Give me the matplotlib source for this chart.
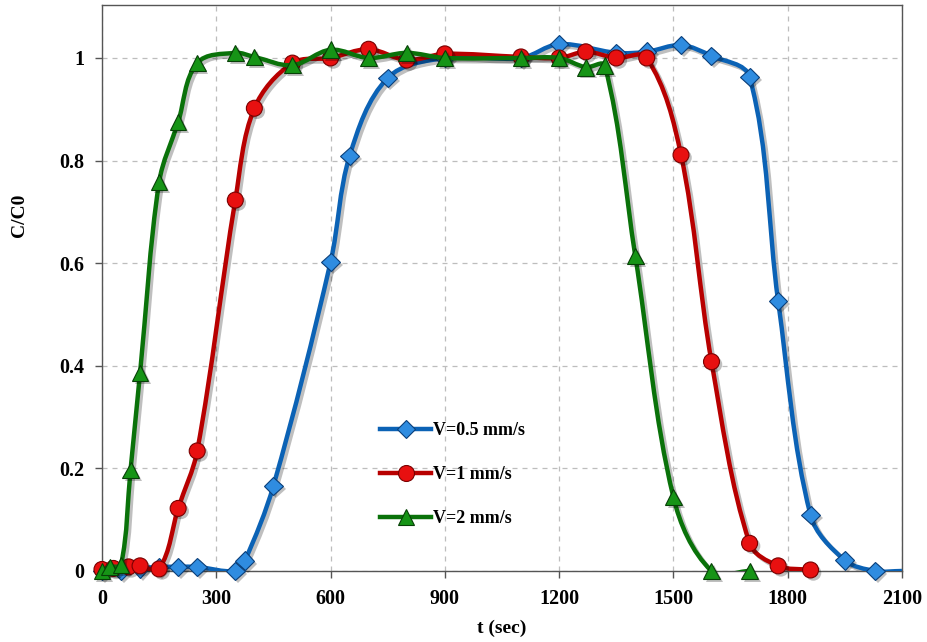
import numpy as np
import matplotlib
matplotlib.use("Agg")
import matplotlib.pyplot as plt
import matplotlib.patheffects as pe
from matplotlib.path import Path
from matplotlib.patches import PathPatch
from matplotlib.lines import Line2D
from matplotlib.ticker import FuncFormatter

# datos
t_05 = [0, 50, 100, 150, 200, 250, 350, 375, 450, 600, 650, 750, 900, 1100, 1200,
        1350, 1430, 1520, 1600, 1700, 1775, 1860, 1950, 2030, 2100]
c_05 = [0, 0, 0.005, 0.008, 0.008, 0.008, 0, 0.02, 0.166, 0.602, 0.809, 0.961, 1.0, 1.0, 1.027,
        1.01, 1.012, 1.025, 1.004, 0.963, 0.526, 0.109, 0.021, 0, 0]

t_1 = [0, 30, 70, 100, 150, 200, 250, 350, 400, 500, 600, 700, 800, 900, 1100, 1200,
       1270, 1350, 1430, 1520, 1600, 1700, 1775, 1860]
c_1 = [0.003, 0.005, 0.008, 0.01, 0.004, 0.122, 0.234, 0.723, 0.902, 0.99, 1.0, 1.017, 0.996,
       1.008, 1.002, 1.0, 1.012, 1.0, 1.0, 0.811, 0.408, 0.054, 0.01, 0.002]

t_2 = [0, 20, 50, 75, 100, 150, 200, 250, 350, 400, 500, 600, 700, 800, 900, 1100, 1200,
       1270, 1320, 1400, 1500, 1600, 1700]
c_2 = [0, 0.008, 0.012, 0.197, 0.386, 0.758, 0.875, 0.99, 1.01, 1.002, 0.986, 1.016, 1.0,
       1.01, 1.0, 1.0, 1.0, 0.982, 0.985, 0.614, 0.144, 0, 0]

labels = ["V=0.5 mm/s", "V=1 mm/s", "V=2 mm/s"]
x_ticks = [0, 300, 600, 900, 1200, 1500, 1800, 2100]
y_ticks = [0, 0.2, 0.4, 0.6, 0.8, 1.0]

# estilo de cada serie: color linea, relleno marcador, borde, marcador, tamano
estilos = [
    ("#0b62b5", "#2f8ce0", "#0a3f7a", "D", 9.5),
    ("#b80000", "#e81010", "#7a0000", "o", 11.5),
    ("#0a720a", "#169416", "#064006", "^", 12),
]

plt.rcParams["font.family"] = ["Liberation Serif", "DejaVu Serif"]
plt.rcParams["font.weight"] = "bold"

X_MAX, Y_MAX = 2100, 1.103


def curva_suave(x, y, sx=800 / 2100, sy=513):
    # curva suavizada con Bezier cubicas; tangentes calculadas en escala de pixeles
    # y limitadas por la longitud de cada tramo (evita ondulaciones)
    pts = np.column_stack([np.asarray(x) * sx, np.asarray(y) * sy]).astype(float)
    n = len(pts)

    def tangente(i):
        a = pts[max(i - 1, 0)]
        b = pts[min(i + 1, n - 1)]
        d = b - a
        return d / (np.hypot(*d) + 1e-12)

    verts = [pts[0]]
    codes = [Path.MOVETO]
    for i in range(n - 1):
        p1, p2 = pts[i], pts[i + 1]
        L = np.hypot(*(p2 - p1)) / 3
        verts += [p1 + tangente(i) * L, p2 - tangente(i + 1) * L, p2]
        codes += [Path.CURVE4] * 3
    verts = np.array(verts) / [sx, sy]
    return Path(verts, codes)


fig = plt.figure(figsize=(9.27, 6.42), dpi=100)
ax = fig.add_axes([0.110, 0.1106, 0.863, 0.8814])

series = [(t_05, c_05), (t_1, c_1), (t_2, c_2)]
sombra_linea = [pe.SimpleLineShadow(offset=(2, -2), alpha=0.25, shadow_color="k"), pe.Normal()]
sombra_marca = [pe.SimplePatchShadow(offset=(2, -2), alpha=0.25, shadow_rgbFace="k"), pe.Normal()]

for k, ((t, c), (lc, fc, ec, mk, ms)) in enumerate(zip(series, estilos)):
    patch = PathPatch(curva_suave(t, c), facecolor="none", edgecolor=lc, lw=3.2,
                      zorder=3 + 2 * k, clip_on=True)
    patch.set_path_effects(sombra_linea)
    ax.add_patch(patch)
    # el ultimo punto azul (2100) no lleva marcador
    n_marcas = len(t) - 1 if k == 0 else len(t)
    ax.plot(t[:n_marcas], c[:n_marcas], linestyle="none", marker=mk, ms=ms,
            markerfacecolor=fc, markeredgecolor=ec, markeredgewidth=0.8,
            zorder=4 + 2 * k, clip_on=False, path_effects=sombra_marca)

ax.set_xlim(0, X_MAX)
ax.set_ylim(0, Y_MAX)
ax.set_xticks(x_ticks)
ax.set_yticks(y_ticks)
ax.yaxis.set_major_formatter(FuncFormatter(lambda v, p: "%g" % v))
ax.tick_params(axis="both", direction="out", length=5, width=1, color="#555555",
               labelsize=14.5, pad=8)
ax.grid(True, linestyle=(0, (4, 4)), color="#bdbdbd", linewidth=0.9)
ax.set_axisbelow(True)
for s in ax.spines.values():
    s.set_color("#555555")
    s.set_linewidth(1.0)

ax.set_xlabel("t (sec)", fontsize=14, fontweight="bold")
ax.xaxis.set_label_coords(0.5, -0.086)
ax.set_ylabel("C/C0", fontsize=14, fontweight="bold")
ax.yaxis.set_label_coords(-0.092, 0.629)

handles = [Line2D([], [], color=lc, lw=3.2, marker=mk, ms=ms, markerfacecolor=fc,
                  markeredgecolor=ec, markeredgewidth=0.8)
           for (lc, fc, ec, mk, ms) in estilos]
ax.legend(handles, labels, loc="center left", bbox_to_anchor=(0.348, 0.17),
          frameon=False, handlelength=2.8, handletextpad=0.1,
          labelspacing=1.5, borderpad=0, borderaxespad=0,
          prop={"weight": "bold", "size": 13})

fig.savefig("out.png", dpi=100)
